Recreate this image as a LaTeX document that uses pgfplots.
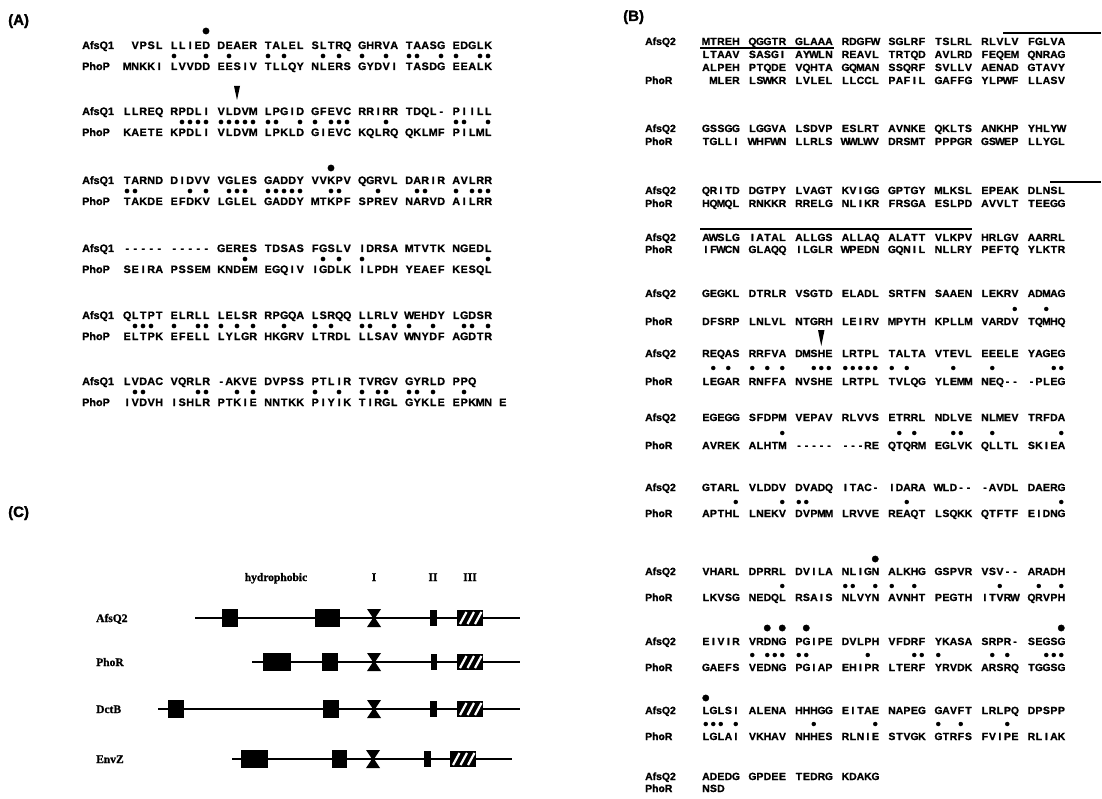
\documentclass[border=0pt]{standalone}
\usepackage{fontspec}
\setmainfont{Liberation Sans}[BoldFeatures={FakeBold=1.3}]
\newfontfamily\serifbf{Liberation Serif}[BoldFeatures={FakeBold=1.2}]
\usepackage{pgfplots}
\pgfplotsset{compat=1.18}
\def\sqA#1{\sqAi#1\relax}
\def\sqAi#1{\ifx\relax#1\else\ifx*#1\hbox to8pt{\hss}\else\hbox to8pt{\hss#1\hss}\fi\expandafter\sqAi\fi}
\def\sqB#1{\sqBi#1\relax}
\def\sqBi#1{\ifx\relax#1\else\ifx*#1\hbox to7.5pt{\hss}\else\hbox to7.5pt{\hss#1\hss}\fi\expandafter\sqBi\fi}
\tikzset{
 sa/.style={anchor=base west, inner sep=0pt, font=\fontsize{10.8}{12}\selectfont\bfseries},
 sb/.style={anchor=base west, inner sep=0pt, font=\fontsize{10.4}{12}\selectfont\bfseries},
 sc/.style={anchor=base west, inner sep=0pt, font=\serifbf\fontsize{11.5}{12}\selectfont\bfseries},
 pl/.style={anchor=base west, inner sep=0pt, font=\fontsize{15}{16}\selectfont\bfseries}
}
\newcommand\rA[9]{\node[sa] at (axis cs:123,#1) {\sqA{#2}};\node[sa] at (axis cs:170,#1) {\sqA{#3}};\node[sa] at (axis cs:217,#1) {\sqA{#4}};\node[sa] at (axis cs:264,#1) {\sqA{#5}};\node[sa] at (axis cs:311,#1) {\sqA{#6}};\node[sa] at (axis cs:358,#1) {\sqA{#7}};\node[sa] at (axis cs:405,#1) {\sqA{#8}};\node[sa] at (axis cs:452,#1) {\sqA{#9}};}
\newcommand\rB[9]{\node[sb] at (axis cs:702,#1) {\sqB{#2}};\node[sb] at (axis cs:748.5,#1) {\sqB{#3}};\node[sb] at (axis cs:795,#1) {\sqB{#4}};\node[sb] at (axis cs:841.5,#1) {\sqB{#5}};\node[sb] at (axis cs:888,#1) {\sqB{#6}};\node[sb] at (axis cs:934.5,#1) {\sqB{#7}};\node[sb] at (axis cs:981,#1) {\sqB{#8}};\node[sb] at (axis cs:1027.5,#1) {\sqB{#9}};}
\newcommand\bx[4]{\addplot[fill=black,draw=none] coordinates {(#1,#3) (#2,#3) (#2,#4) (#1,#4)};}
\newcommand\hl[3]{\addplot[black,line width=1.7pt] coordinates {(#1,#3) (#2,#3)};}
\newcommand\wl[3]{\addplot[white,line width=#3] coordinates {#1 #2};}
\begin{document}
\begin{tikzpicture}
\begin{axis}[name=ax, width=1102pt, height=799pt, scale only axis,
  xmin=0, xmax=1102, ymin=0, ymax=799, y dir=reverse,
  axis lines=none, ticks=none, clip=false]
\node[pl] at (axis cs:8,25) {(A)};
\node[sa] at (axis cs:82,49) {AfsQ1}; \node[sa] at (axis cs:82,70) {PhoP};
\rA{49}{*VPSL}{LLIED}{DEAER}{TALEL}{SLTRQ}{GHRVA}{TAASG}{EDGLK}
\rA{70}{MNKKI}{LVVDD}{EESIV}{TLLQY}{NLERS}{GYDVI}{TASDG}{EEALK}
\node[sa] at (axis cs:82,115) {AfsQ1}; \node[sa] at (axis cs:82,136) {PhoP};
\rA{115}{LLREQ}{RPDLI}{VLDVM}{LPGID}{GFEVC}{RRIRR}{TDQL-}{PIILL}
\rA{136}{KAETE}{KPDLI}{VLDVM}{LPKLD}{GIEVC}{KQLRQ}{QKLMF}{PILML}
\node[sa] at (axis cs:82,184) {AfsQ1}; \node[sa] at (axis cs:82,205) {PhoP};
\rA{184}{TARND}{DIDVV}{VGLES}{GADDY}{VVKPV}{QGRVL}{DARIR}{AVLRR}
\rA{205}{TAKDE}{EFDKV}{LGLEL}{GADDY}{MTKPF}{SPREV}{NARVD}{AILRR}
\node[sa] at (axis cs:82,252) {AfsQ1}; \node[sa] at (axis cs:82,273) {PhoP};
\rA{252}{-----}{-----}{GERES}{TDSAS}{FGSLV}{IDRSA}{MTVTK}{NGEDL}
\rA{273}{SEIRA}{PSSEM}{KNDEM}{EGQIV}{IGDLK}{ILPDH}{YEAEF}{KESQL}
\node[sa] at (axis cs:82,319) {AfsQ1}; \node[sa] at (axis cs:82,340) {PhoP};
\rA{319}{QLTPT}{ELRLL}{LELSR}{RPGQA}{LSRQQ}{LLRLV}{WEHDY}{LGDSR}
\rA{340}{ELTPK}{EFELL}{LYLGR}{HKGRV}{LTRDL}{LLSAV}{WNYDF}{AGDTR}
\node[sa] at (axis cs:82,385) {AfsQ1}; \node[sa] at (axis cs:82,406) {PhoP};
\rA{385}{LVDAC}{VQRLR}{-AKVE}{DVPSS}{PTLIR}{TVRGV}{GYRLD}{PPQ}
\rA{406}{IVDVH}{ISHLR}{PTKIE}{NNTKK}{PIYIK}{TIRGL}{GYKLE}{EPKMN}
\node[sa] at (axis cs:499,406) {E};
\addplot[only marks, mark=*, mark size=2.1pt, black] coordinates {
(174,56)(206,56)(229,56)(268,56)(284,56)(323,56)(339,56)(362,56)(386,56)(409,56)(417,56)(441,56)(456,56)(480,56)(488,56)
(182,122)(190,122)(198,122)(206,122)(221,122)(229,122)(237,122)(245,122)(253,122)(268,122)(276,122)(300,122)(315,122)(331,122)(339,122)(347,122)(386,122)(456,122)(464,122)(488,122)
(127,191)(135,191)(190,191)(206,191)(229,191)(237,191)(245,191)(268,191)(276,191)(284,191)(292,191)(300,191)(331,191)(339,191)(378,191)(417,191)(425,191)(456,191)(472,191)(480,191)(488,191)
(245,259)(323,259)(339,259)(362,259)(488,259)
(135,326)(143,326)(151,326)(174,326)(198,326)(206,326)(221,326)(237,326)(253,326)(284,326)(315,326)(331,326)(362,326)(370,326)(394,326)(409,326)(433,326)(464,326)(472,326)(488,326)
(135,392)(143,392)(198,392)(206,392)(237,392)(253,392)(315,392)(339,392)(362,392)(378,392)(386,392)(409,392)(417,392)(433,392)(464,392)
};
\addplot[only marks, mark=*, mark size=3.2pt, black] coordinates {(206,31)(331,168)};
\addplot[fill=black, draw=none] coordinates {(234,86) (240,86) (237,100)};
\node[pl] at (axis cs:623,21) {(B)};
\node[sb] at (axis cs:645,45) {AfsQ2}; \node[sb] at (axis cs:645,84) {PhoR};
\rB{45}{MTREH}{QGGTR}{GLAAA}{RDGFW}{SGLRF}{TSLRL}{RLVLV}{FGLVA}
\rB{58}{LTAAV}{SASGI}{AYWLN}{REAVL}{TRTQD}{AVLRD}{FEQEM}{QNRAG}
\rB{71}{ALPEH}{PTQDE}{VQHTA}{GQMAN}{SSQRF}{SVLLV}{AENAD}{GTAVY}
\rB{84}{*MLER}{LSWKR}{LVLEL}{LLCCL}{PAFIL}{GAFFG}{YLPWF}{LLASV}
\node[sb] at (axis cs:645,132) {AfsQ2}; \node[sb] at (axis cs:645,145) {PhoR};
\rB{132}{GSSGG}{LGGVA}{LSDVP}{ESLRT}{AVNKE}{QKLTS}{ANKHP}{YHLYW}
\rB{145}{TGLLI}{WHFWN}{LLRLS}{WWLWV}{DRSMT}{PPPGR}{GSWEP}{LLYGL}
\node[sb] at (axis cs:645,194) {AfsQ2}; \node[sb] at (axis cs:645,207) {PhoR};
\rB{194}{QRITD}{DGTPY}{LVAGT}{KVIGG}{GPTGY}{MLKSL}{EPEAK}{DLNSL}
\rB{207}{HQMQL}{RNKKR}{RRELG}{NLIKR}{FRSGA}{ESLPD}{AVVLT}{TEEGG}
\node[sb] at (axis cs:645,241) {AfsQ2}; \node[sb] at (axis cs:645,253) {PhoR};
\rB{241}{AWSLG}{IATAL}{ALLGS}{ALLAQ}{ALATT}{VLKPV}{HRLGV}{AARRL}
\rB{253}{IFWCN}{GLAQQ}{ILGLR}{WPEDN}{GQNIL}{NLLRY}{PEFTQ}{YLKTR}
\node[sb] at (axis cs:645,297) {AfsQ2}; \node[sb] at (axis cs:645,325) {PhoR};
\rB{297}{GEGKL}{DTRLR}{VSGTD}{ELADL}{SRTFN}{SAAEN}{LEKRV}{ADMAG}
\rB{325}{DFSRP}{LNLVL}{NTGRH}{LEIRV}{MPYTH}{KPLLM}{VARDV}{TQMHQ}
\node[sb] at (axis cs:645,357) {AfsQ2}; \node[sb] at (axis cs:645,385) {PhoR};
\rB{357}{REQAS}{RRFVA}{DMSHE}{LRTPL}{TALTA}{VTEVL}{EEELE}{YAGEG}
\rB{385}{LEGAR}{RNFFA}{NVSHE}{LRTPL}{TVLQG}{YLEMM}{NEQ--}{-PLEG}
\node[sb] at (axis cs:645,421) {AfsQ2}; \node[sb] at (axis cs:645,449) {PhoR};
\rB{421}{EGEGG}{SFDPM}{VEPAV}{RLVVS}{ETRRL}{NDLVE}{NLMEV}{TRFDA}
\rB{449}{AVREK}{ALHTM}{-----}{---RE}{QTQRM}{EGLVK}{QLLTL}{SKIEA}
\node[sb] at (axis cs:645,491) {AfsQ2}; \node[sb] at (axis cs:645,517) {PhoR};
\rB{491}{GTARL}{VLDDV}{DVADQ}{ITAC-}{IDARA}{WLD--}{-AVDL}{DAERG}
\rB{517}{APTHL}{LNEKV}{DVPMM}{LRVVE}{REAQT}{LSQKK}{QTFTF}{EIDNG}
\node[sb] at (axis cs:645,575) {AfsQ2}; \node[sb] at (axis cs:645,601) {PhoR};
\rB{575}{VHARL}{DPRRL}{DVILA}{NLIGN}{ALKHG}{GSPVR}{VSV--}{ARADH}
\rB{601}{LKVSG}{NEDQL}{RSAIS}{NLVYN}{AVNHT}{PEGTH}{ITVRW}{QRVPH}
\node[sb] at (axis cs:645,645) {AfsQ2}; \node[sb] at (axis cs:645,671) {PhoR};
\rB{645}{EIVIR}{VRDNG}{PGIPE}{DVLPH}{VFDRF}{YKASA}{SRPR-}{SEGSG}
\rB{671}{GAEFS}{VEDNG}{PGIAP}{EHIPR}{LTERF}{YRVDK}{ARSRQ}{TGGSG}
\node[sb] at (axis cs:645,714) {AfsQ2}; \node[sb] at (axis cs:645,740) {PhoR};
\rB{714}{LGLSI}{ALENA}{HHHGG}{EITAE}{NAPEG}{GAVFT}{LRLPQ}{DPSPP}
\rB{740}{LGLAI}{VKHAV}{NHHES}{RLNIE}{STVGK}{GTRFS}{FVIPE}{RLIAK}
\node[sb] at (axis cs:645,780) {AfsQ2}; \node[sb] at (axis cs:645,792) {PhoR};
\node[sb] at (axis cs:702,780) {\sqB{ADEDG}}; \node[sb] at (axis cs:748.5,780) {\sqB{GPDEE}};
\node[sb] at (axis cs:795,780) {\sqB{TEDRG}}; \node[sb] at (axis cs:841.5,780) {\sqB{KDAKG}};
\node[sb] at (axis cs:702,792) {\sqB{NSD}};
\addplot[only marks, mark=*, mark size=2pt, black] coordinates {
(1014.75,309)(1046.25,309)
(713.25,368)(728.25,368)(752.25,368)(767.25,368)(782.25,368)(813.75,368)(821.25,368)(828.75,368)(845.25,368)(852.75,368)(860.25,368)(867.75,368)(875.25,368)(891.75,368)(906.75,368)(953.25,368)(992.25,368)(1053.75,368)(1061.25,368)
(782.25,433)(899.25,433)(914.25,433)(953.25,433)(960.75,433)(992.25,433)(1061.25,433)
(735.75,502)(782.25,502)(798.75,502)(806.25,502)(906.75,502)(1061.25,502)
(782.25,586)(845.25,586)(852.75,586)(875.25,586)(891.75,586)(914.25,586)(999.75,586)(1038.75,586)(1061.25,586)
(752.25,655)(767.25,655)(774.75,655)(782.25,655)(798.75,655)(806.25,655)(867.75,655)(914.25,655)(921.75,655)(938.25,655)(992.25,655)(1007.25,655)(1046.25,655)(1053.75,655)(1061.25,655)
(705.75,724)(713.25,724)(720.75,724)(735.75,724)(813.75,724)(875.25,724)(938.25,724)(960.75,724)(1007.25,724)
};
\addplot[only marks, mark=*, mark size=3.2pt, black] coordinates {(875.25,559)(767.25,628)(782.25,628)(806.25,628)(1061.25,628)(705.75,698)};
\addplot[fill=black, draw=none] coordinates {(818,330) (824.5,330) (821.25,346)};
\addplot[black, line width=1.8pt] coordinates {(1003,33) (1101,33)};
\addplot[black, line width=1.8pt] coordinates {(700,48) (834,48)};
\addplot[black, line width=1.8pt] coordinates {(1050,182) (1101,182)};
\addplot[black, line width=1.8pt] coordinates {(700,229) (972,229)};
\node[pl] at (axis cs:8,517) {(C)};
\node[sc, anchor=base] at (axis cs:276,581) {hydrophobic};
\node[sc, anchor=base] at (axis cs:374,581) {I};
\node[sc, anchor=base] at (axis cs:433,581) {II};
\node[sc, anchor=base] at (axis cs:470,581) {III};
\node[sc] at (axis cs:96,622) {AfsQ2};
\node[sc] at (axis cs:96,666) {PhoR};
\node[sc] at (axis cs:96,713) {DctB};
\node[sc] at (axis cs:96,763) {EnvZ};
\hl{195}{520}{618}
\bx{222}{238}{609}{627}
\bx{315}{340}{609}{627}
\addplot[fill=black,draw=none] coordinates {(367,609)(381,609)(375,618)(381,627)(367,627)(373,618)};
\bx{430}{437}{610}{626}
\bx{457}{483}{610}{626}
\wl{(460,624)}{(466.5,612)}{2.2pt}
\wl{(467.5,624)}{(474,612)}{2.2pt}
\wl{(475,624)}{(481.5,612)}{2.2pt}
\hl{252}{520}{662}
\bx{263}{291}{653}{671}
\bx{322}{338}{653}{671}
\addplot[fill=black,draw=none] coordinates {(367,653)(381,653)(375,662)(381,671)(367,671)(373,662)};
\bx{431}{437}{654}{670}
\bx{457}{483}{654}{670}
\wl{(460,668)}{(466.5,656)}{2.2pt}
\wl{(467.5,668)}{(474,656)}{2.2pt}
\wl{(475,668)}{(481.5,656)}{2.2pt}
\hl{158}{520}{709}
\bx{168}{184}{700}{718}
\bx{323}{339}{700}{718}
\addplot[fill=black,draw=none] coordinates {(367,700)(381,700)(375,709)(381,718)(367,718)(373,709)};
\bx{430}{437}{701}{717}
\bx{457}{483}{701}{717}
\wl{(460,715)}{(466.5,703)}{2.2pt}
\wl{(467.5,715)}{(474,703)}{2.2pt}
\wl{(475,715)}{(481.5,703)}{2.2pt}
\hl{232}{512}{759}
\bx{241}{268}{750}{768}
\bx{332}{347}{750}{768}
\addplot[fill=black,draw=none] coordinates {(366,750)(380,750)(374,759)(380,768)(366,768)(372,759)};
\bx{424}{431}{751}{767}
\bx{450}{476}{751}{767}
\wl{(453,765)}{(459.5,753)}{2.2pt}
\wl{(460.5,765)}{(467,753)}{2.2pt}
\wl{(468,765)}{(474.5,753)}{2.2pt}
\end{axis}
\pgfresetboundingbox
\path[use as bounding box] (ax.south west) rectangle (ax.north east);
\end{tikzpicture}
\end{document}
